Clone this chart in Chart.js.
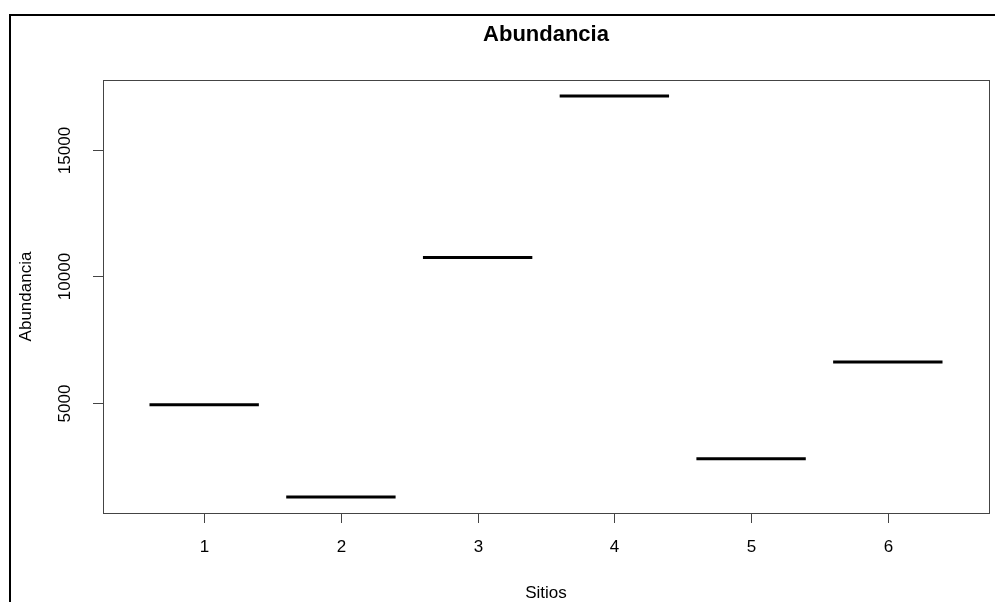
<!DOCTYPE html>
<html>
<head>
<meta charset="utf-8">
<script src="https://cdn.jsdelivr.net/npm/chart.js@4"></script>
<style>
  html, body { margin: 0; padding: 0; background: #fff; }
  #wrap { position: relative; width: 995px; height: 602px; overflow: hidden; }
  #frame { position: absolute; left: 9px; top: 14px; width: 1000px; height: 600px;
           border-left: 2px solid #000; border-top: 2px solid #000; }
  canvas { position: absolute; left: 0; top: 0; }
</style>
</head>
<body>
<div id="wrap">
  <div id="frame"></div>
  <canvas id="chart" width="995" height="602"></canvas>
</div>
<script>
// Values (one median per site)
const sites = ['1', '2', '3', '4', '5', '6'];
const abundance = [4940, 1310, 10750, 17110, 2820, 6630];
const yTicks = [5000, 10000, 15000];

const title = 'Abundancia';
const xTitle = 'Sitios';
const yTitle = 'Abundancia';

// R style axis range: data range + 4% each side
const lo = Math.min(...abundance), hi = Math.max(...abundance);
const pad = (hi - lo) * 0.04;
const halfWidth = 0.4;

const datasets = abundance.map((v, i) => ({
  data: [{ x: i + 1 - halfWidth, y: v }, { x: i + 1 + halfWidth, y: v }],
  showLine: true,
  borderColor: '#000',
  borderWidth: 3,
  pointRadius: 0,
  borderCapStyle: 'butt'
}));

const FONT = '"Liberation Sans", Arial, sans-serif';

// draws box, ticks, labels and titles the way base R does
const rAxes = {
  id: 'rAxes',
  afterDraw(chart) {
    const { ctx, chartArea: a, scales } = chart;
    const x = scales.x, y = scales.y;
    ctx.save();
    ctx.strokeStyle = '#444';
    ctx.lineWidth = 1;
    ctx.strokeRect(Math.round(a.left) + 0.5, Math.round(a.top) + 0.5,
      Math.round(a.right - a.left), Math.round(a.bottom - a.top));

    ctx.fillStyle = '#000';
    ctx.font = '17px ' + FONT;
    ctx.textAlign = 'center';
    ctx.textBaseline = 'middle';
    sites.forEach((s, i) => {
      const px = Math.round(x.getPixelForValue(i + 1)) + 0.5;
      ctx.beginPath();
      ctx.moveTo(px, a.bottom);
      ctx.lineTo(px, a.bottom + 10);
      ctx.stroke();
      ctx.fillText(s, px, a.bottom + 34);
    });
    yTicks.forEach(t => {
      const py = Math.round(y.getPixelForValue(t)) + 0.5;
      ctx.beginPath();
      ctx.moveTo(a.left, py);
      ctx.lineTo(a.left - 10, py);
      ctx.stroke();
      ctx.save();
      ctx.translate(a.left - 38, py);
      ctx.rotate(-Math.PI / 2);
      ctx.fillText(String(t), 0, 0);
      ctx.restore();
    });

    ctx.font = '17px ' + FONT;
    ctx.fillText(xTitle, (a.left + a.right) / 2, 593);
    ctx.save();
    ctx.translate(26, (a.top + a.bottom) / 2);
    ctx.rotate(-Math.PI / 2);
    ctx.fillText(yTitle, 0, 0);
    ctx.restore();

    ctx.font = 'bold 22px ' + FONT;
    ctx.fillText(title, (a.left + a.right) / 2, 35);
    ctx.restore();
  }
};

new Chart(document.getElementById('chart'), {
  type: 'scatter',
  data: { datasets },
  options: {
    responsive: false,
    animation: false,
    layout: { padding: { left: 103, top: 80, right: 6, bottom: 89 } },
    scales: {
      x: { type: 'linear', display: false, min: 0.5 - 0.24, max: sites.length + 0.5 + 0.24 },
      y: { type: 'linear', display: false, min: lo - pad, max: hi + pad }
    },
    plugins: { legend: { display: false }, tooltip: { enabled: false } }
  },
  plugins: [rAxes]
});
</script>
</body>
</html>
